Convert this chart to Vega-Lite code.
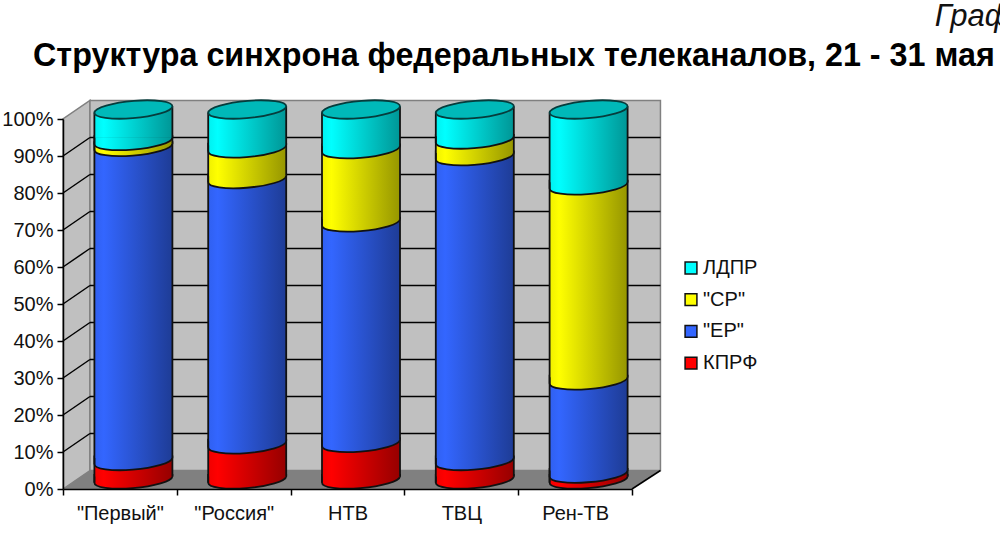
{
  "$schema": "https://vega.github.io/schema/vega-lite/v6.json",
  "background": "white",
  "autosize": "none",
  "padding": {"left": 63, "top": 119, "right": 368, "bottom": 71},
  "width": 569,
  "height": 370,
  "title": {
    "text": "Структура синхрона федеральных телеканалов, 21 - 31 мая",
    "anchor": "start",
    "frame": "group",
    "dx": -30,
    "offset": -71,
    "font": "Liberation Sans",
    "fontSize": 32.3,
    "fontWeight": "bold",
    "color": "black"
  },
  "config": {
    "font": "Liberation Sans",
    "view": {"stroke": null},
    "axisY": {"tickCount": 11, "labelOverlap": false}
  },
  "resolve": {"scale": {"x": "independent"}},
  "layer": [
    {
      "layer": [
        {
          "data": {"values": [
            {"u": 0, "lo": 0, "hi": 100},
            {"u": 0.237, "lo": 5, "hi": 105}
          ]},
          "mark": {"type": "area", "fill": "#c0c0c0", "stroke": "#808080", "strokeWidth": 1.5, "clip": false},
          "encoding": {
            "x": {"field": "u", "type": "quantitative", "scale": {"domain": [0, 5], "nice": false, "zero": false}, "axis": null},
            "y": {
              "field": "lo", "type": "quantitative",
              "scale": {"domain": [0, 100], "nice": false},
              "axis": {
                "title": null, "grid": false, "values": [0, 10, 20, 30, 40, 50, 60, 70, 80, 90, 100], "labelOverlap": false,
                "labelExpr": "datum.value + '%'", "labelFont": "Liberation Sans", "labelFontSize": 20, "labelColor": "#111",
                "labelPadding": 4, "tickSize": 6, "tickColor": "black", "tickWidth": 1.5, "domainColor": "black", "domainWidth": 1.5, "zindex": 1
              }
            },
            "y2": {"field": "hi"}
          }
        },
        {
          "data": {"values": [
            {"u": 0.237, "lo": 5, "hi": 105},
            {"u": 5.25, "lo": 5, "hi": 105}
          ]},
          "mark": {"type": "area", "fill": "#c0c0c0", "stroke": "#808080", "strokeWidth": 1.5, "clip": false},
          "encoding": {
            "x": {"field": "u", "type": "quantitative", "axis": null},
            "y": {"field": "lo", "type": "quantitative"},
            "y2": {"field": "hi"}
          }
        },
        {
          "data": {"values": [
            {"u": 0, "lo": 0, "hi": 0},
            {"u": 0.237, "lo": 0, "hi": 5},
            {"u": 5, "lo": 0, "hi": 5},
            {"u": 5.25, "lo": 5, "hi": 5}
          ]},
          "mark": {"type": "area", "fill": "#808080", "clip": false},
          "encoding": {
            "x": {"field": "u", "type": "quantitative", "axis": null},
            "y": {"field": "lo", "type": "quantitative"},
            "y2": {"field": "hi"}
          }
        },
        {
          "data": {"values": [
            {"a": 0, "b": 0.237, "p": 10, "q": 15}, {"a": 0, "b": 0.237, "p": 20, "q": 25},
            {"a": 0, "b": 0.237, "p": 30, "q": 35}, {"a": 0, "b": 0.237, "p": 40, "q": 45},
            {"a": 0, "b": 0.237, "p": 50, "q": 55}, {"a": 0, "b": 0.237, "p": 60, "q": 65},
            {"a": 0, "b": 0.237, "p": 70, "q": 75}, {"a": 0, "b": 0.237, "p": 80, "q": 85},
            {"a": 0, "b": 0.237, "p": 90, "q": 95},
            {"a": 0.237, "b": 5.25, "p": 15, "q": 15}, {"a": 0.237, "b": 5.25, "p": 25, "q": 25},
            {"a": 0.237, "b": 5.25, "p": 35, "q": 35}, {"a": 0.237, "b": 5.25, "p": 45, "q": 45},
            {"a": 0.237, "b": 5.25, "p": 55, "q": 55}, {"a": 0.237, "b": 5.25, "p": 65, "q": 65},
            {"a": 0.237, "b": 5.25, "p": 75, "q": 75}, {"a": 0.237, "b": 5.25, "p": 85, "q": 85},
            {"a": 0.237, "b": 5.25, "p": 95, "q": 95},
            {"a": 5, "b": 5.25, "p": 0, "q": 5}
          ]},
          "mark": {"type": "rule", "color": "black", "strokeWidth": 1.5, "clip": false},
          "encoding": {
            "x": {"field": "a", "type": "quantitative", "axis": null},
            "x2": {"field": "b"},
            "y": {"field": "p", "type": "quantitative"},
            "y2": {"field": "q"}
          }
        },
        {
          "data": {"values": [{"t": "Граф", "u": 7.66, "v": 125.1}]},
          "mark": {"type": "text", "align": "left", "baseline": "alphabetic", "font": "Liberation Sans", "fontSize": 31, "fontStyle": "italic", "color": "#111", "clip": false},
          "encoding": {
            "x": {"field": "u", "type": "quantitative", "axis": null},
            "y": {"field": "v", "type": "quantitative"},
            "text": {"field": "t"}
          }
        }
      ]
    },
    {
      "data": {"values": [
        {"channel": "\"Первый\"", "party": "КПРФ", "rank": 1, "share": 5},
        {"channel": "\"Первый\"", "party": "\"ЕР\"", "rank": 2, "share": 84.9},
        {"channel": "\"Первый\"", "party": "\"СР\"", "rank": 3, "share": 1.6},
        {"channel": "\"Первый\"", "party": "ЛДПР", "rank": 4, "share": 8.5},
        {"channel": "\"Россия\"", "party": "КПРФ", "rank": 1, "share": 9.5},
        {"channel": "\"Россия\"", "party": "\"ЕР\"", "rank": 2, "share": 71.7},
        {"channel": "\"Россия\"", "party": "\"СР\"", "rank": 3, "share": 8.3},
        {"channel": "\"Россия\"", "party": "ЛДПР", "rank": 4, "share": 10.5},
        {"channel": "НТВ", "party": "КПРФ", "rank": 1, "share": 9.9},
        {"channel": "НТВ", "party": "\"ЕР\"", "rank": 2, "share": 59.6},
        {"channel": "НТВ", "party": "\"СР\"", "rank": 3, "share": 19.8},
        {"channel": "НТВ", "party": "ЛДПР", "rank": 4, "share": 10.7},
        {"channel": "ТВЦ", "party": "КПРФ", "rank": 1, "share": 5},
        {"channel": "ТВЦ", "party": "\"ЕР\"", "rank": 2, "share": 82.4},
        {"channel": "ТВЦ", "party": "\"СР\"", "rank": 3, "share": 4.5},
        {"channel": "ТВЦ", "party": "ЛДПР", "rank": 4, "share": 8.1},
        {"channel": "Рен-ТВ", "party": "КПРФ", "rank": 1, "share": 1.6},
        {"channel": "Рен-ТВ", "party": "\"ЕР\"", "rank": 2, "share": 25.2},
        {"channel": "Рен-ТВ", "party": "\"СР\"", "rank": 3, "share": 52.7},
        {"channel": "Рен-ТВ", "party": "ЛДПР", "rank": 4, "share": 20.5}
      ]},
      "transform": [
        {"stack": "share", "groupby": ["channel"], "sort": [{"field": "rank", "order": "ascending"}], "as": ["v0", "v1"]}
      ],
      "encoding": {
        "x": {
          "field": "channel", "type": "nominal", "sort": ["\"Первый\"", "\"Россия\"", "НТВ", "ТВЦ", "Рен-ТВ"],
          "scale": {"paddingInner": 0, "paddingOuter": 0},
          "axis": {
            "orient": "bottom", "title": null, "labelAngle": 0, "tickBand": "extent", "labelFont": "Liberation Sans", "labelFontSize": 20, "labelColor": "#111",
            "labelPadding": 8, "tickSize": 6, "tickColor": "black", "tickWidth": 1.5, "domainColor": "black", "domainWidth": 1.5, "zindex": 1
          }
        }
      },
      "layer": [
        {
          "transform": [{"filter": "datum.rank == 1"}],
          "mark": {"type": "point", "filled": true, "shape": "M-1,.08A1,.22,-5,0,0,1,-.08L1,-.12L-1,-.12Z", "size": 6084, "xOffset": 13.5, "yOffset": -9.5, "opacity": 1, "stroke": "#111", "strokeWidth": 1.8,
            "fill": {"gradient": "linear", "x1": 0, "x2": 1, "y1": 0, "y2": 0, "stops": [{"offset": 0, "color": "#f00000"}, {"offset": 0.12, "color": "#ff0000"}, {"offset": 1, "color": "#960000"}]}},
          "encoding": {"y": {"field": "v0", "type": "quantitative"}}
        },
        {
          "transform": [{"filter": "datum.rank == 1"}],
          "mark": {"type": "bar", "width": 78, "xOffset": 13.5, "yOffset": -12.6, "y2Offset": -12.6,
            "fill": {"gradient": "linear", "x1": 0, "x2": 1, "y1": 0, "y2": 0, "stops": [{"offset": 0, "color": "#f00000"}, {"offset": 0.12, "color": "#ff0000"}, {"offset": 1, "color": "#960000"}]}},
          "encoding": {"y": {"field": "v1", "type": "quantitative"}, "y2": {"field": "v0"}}
        },
        {
          "transform": [{"filter": "datum.rank == 2"}],
          "mark": {"type": "point", "filled": true, "shape": "M-1,.08A1,.22,-5,0,0,1,-.08L1,-.12L-1,-.12Z", "size": 6084, "xOffset": 13.5, "yOffset": -9.5, "opacity": 1, "stroke": "#111", "strokeWidth": 1.8,
            "fill": {"gradient": "linear", "x1": 0, "x2": 1, "y1": 0, "y2": 0, "stops": [{"offset": 0, "color": "#3060f0"}, {"offset": 0.12, "color": "#3366ff"}, {"offset": 1, "color": "#1e3c96"}]}},
          "encoding": {"y": {"field": "v0", "type": "quantitative"}}
        },
        {
          "transform": [{"filter": "datum.rank == 2"}],
          "mark": {"type": "bar", "width": 78, "xOffset": 13.5, "yOffset": -12.6, "y2Offset": -12.6,
            "fill": {"gradient": "linear", "x1": 0, "x2": 1, "y1": 0, "y2": 0, "stops": [{"offset": 0, "color": "#3060f0"}, {"offset": 0.12, "color": "#3366ff"}, {"offset": 1, "color": "#1e3c96"}]}},
          "encoding": {"y": {"field": "v1", "type": "quantitative"}, "y2": {"field": "v0"}}
        },
        {
          "transform": [{"filter": "datum.rank == 3"}],
          "mark": {"type": "point", "filled": true, "shape": "M-1,.08A1,.22,-5,0,0,1,-.08L1,-.12L-1,-.12Z", "size": 6084, "xOffset": 13.5, "yOffset": -9.5, "opacity": 1, "stroke": "#111", "strokeWidth": 1.8,
            "fill": {"gradient": "linear", "x1": 0, "x2": 1, "y1": 0, "y2": 0, "stops": [{"offset": 0, "color": "#f0f000"}, {"offset": 0.12, "color": "#ffff00"}, {"offset": 1, "color": "#969600"}]}},
          "encoding": {"y": {"field": "v0", "type": "quantitative"}}
        },
        {
          "transform": [{"filter": "datum.rank == 3"}],
          "mark": {"type": "bar", "width": 78, "xOffset": 13.5, "yOffset": -12.6, "y2Offset": -12.6,
            "fill": {"gradient": "linear", "x1": 0, "x2": 1, "y1": 0, "y2": 0, "stops": [{"offset": 0, "color": "#f0f000"}, {"offset": 0.12, "color": "#ffff00"}, {"offset": 1, "color": "#969600"}]}},
          "encoding": {"y": {"field": "v1", "type": "quantitative"}, "y2": {"field": "v0"}}
        },
        {
          "transform": [{"filter": "datum.rank == 4"}],
          "mark": {"type": "point", "filled": true, "shape": "M-1,.08A1,.22,-5,0,0,1,-.08L1,-.12L-1,-.12Z", "size": 6084, "xOffset": 13.5, "yOffset": -9.5, "opacity": 1, "stroke": "#111", "strokeWidth": 1.8,
            "fill": {"gradient": "linear", "x1": 0, "x2": 1, "y1": 0, "y2": 0, "stops": [{"offset": 0, "color": "#00f0f0"}, {"offset": 0.12, "color": "#00ffff"}, {"offset": 1, "color": "#009696"}]}},
          "encoding": {"y": {"field": "v0", "type": "quantitative"}}
        },
        {
          "transform": [{"filter": "datum.rank == 4"}],
          "mark": {"type": "bar", "width": 78, "xOffset": 13.5, "yOffset": -6.4, "y2Offset": -12.6,
            "fill": {"gradient": "linear", "x1": 0, "x2": 1, "y1": 0, "y2": 0, "stops": [{"offset": 0, "color": "#00f0f0"}, {"offset": 0.12, "color": "#00ffff"}, {"offset": 1, "color": "#009696"}]}},
          "encoding": {"y": {"field": "v1", "type": "quantitative"}, "y2": {"field": "v0"}}
        },
        {
          "transform": [{"filter": "datum.rank == 4"}],
          "mark": {"type": "point", "filled": true, "shape": "M-1,.08A1,.22,-5,0,1,1,-.08L1,.12L-1,.12Z", "size": 6084, "xOffset": 13.5, "yOffset": -9.5, "opacity": 1,
            "fill": {"gradient": "linear", "x1": 0, "x2": 1, "y1": 0, "y2": 0, "stops": [{"offset": 0, "color": "#00f0f0"}, {"offset": 0.12, "color": "#00ffff"}, {"offset": 1, "color": "#009696"}]}},
          "encoding": {"y": {"field": "v1", "type": "quantitative"}}
        },
        {
          "mark": {"type": "rule", "xOffset": -25.5, "yOffset": -6.4, "y2Offset": -6.4, "color": "#111", "strokeWidth": 1.8},
          "encoding": {"y": {"field": "v1", "type": "quantitative"}, "y2": {"field": "v0"}}
        },
        {
          "mark": {"type": "rule", "xOffset": 52.5, "yOffset": -12.6, "y2Offset": -12.6, "color": "#111", "strokeWidth": 1.8},
          "encoding": {"y": {"field": "v1", "type": "quantitative"}, "y2": {"field": "v0"}}
        },
        {
          "transform": [{"filter": "datum.rank == 4"}],
          "mark": {"type": "point", "filled": true, "shape": "M-1,.08A1,.22,-5,1,1,1,-.08A1,.22,-5,1,1,-1,.08Z", "size": 6084, "xOffset": 13.5, "yOffset": -9.5, "opacity": 1, "fill": "#00b9b9", "stroke": "#063c3c", "strokeWidth": 1.8},
          "encoding": {"y": {"field": "v1", "type": "quantitative"}}
        },
        {
          "mark": {"type": "point", "shape": "square", "filled": true, "opacity": 0},
          "encoding": {
            "y": {"field": "v1", "type": "quantitative"},
            "fill": {
              "field": "party", "type": "nominal",
              "scale": {"domain": ["ЛДПР", "\"СР\"", "\"ЕР\"", "КПРФ"], "range": ["#00ffff", "#ffff00", "#3366ff", "#ff0000"]},
              "legend": {
                "title": null, "orient": "none", "legendX": 618, "legendY": 139, "padding": 0, "rowPadding": 11.7,
                "symbolType": "square", "symbolSize": 140, "symbolOpacity": 1, "symbolStrokeColor": "#111", "symbolStrokeWidth": 1.5,
                "labelFont": "Liberation Sans", "labelFontSize": 20, "labelColor": "#111", "labelOffset": 2
              }
            }
          }
        }
      ]
    }
  ]
}
